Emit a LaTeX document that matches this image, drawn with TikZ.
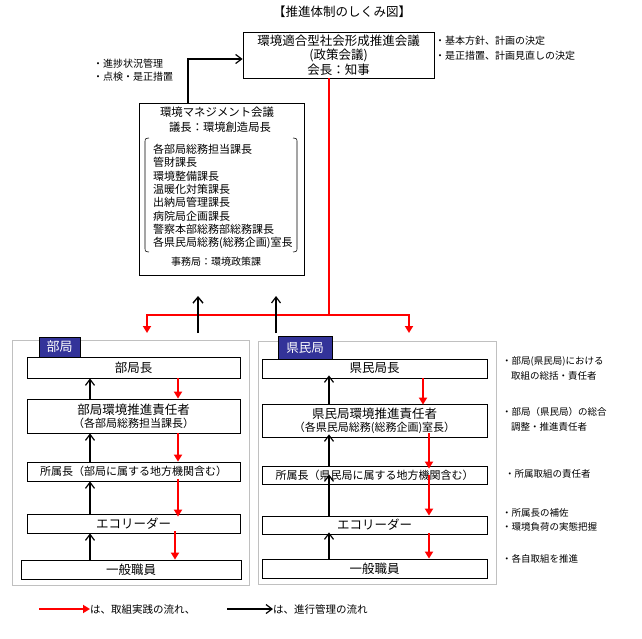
\documentclass[tikz,border=0pt]{standalone}
\usepackage{fontspec}
\setmainfont{Noto Sans CJK JP}
\usetikzlibrary{arrows.meta}
\definecolor{tabblue}{RGB}{51,51,153}
\definecolor{grpgray}{RGB}{192,192,192}
\newcommand\fsz[2]{\fontsize{#1}{#2}\selectfont}
\begin{document}
\begin{tikzpicture}[x=1pt,y=-1pt,
  box/.style={draw, line width=0.8pt, inner sep=0pt, align=center, font=\fsz{12.5}{14}},
  grp/.style={draw=grpgray, line width=1pt, inner sep=0pt},
  tabnode/.style={draw=black, line width=0.6pt, fill=tabblue, text=white, inner sep=0pt, font=\fsz{13}{14}},
  txt/.style={inner sep=0pt, anchor=west},
  note/.style={inner sep=0pt, anchor=west, font=\fsz{9.5}{11}},
  blk/.style={line width=1.7pt, -{Straight Barb[length=6pt,width=9pt,line width=1.2pt]}},
  blkthick/.style={line width=2.7pt, -{Straight Barb[length=6pt,width=10pt,line width=1.4pt]}},
  rd/.style={draw=red, line width=2pt, -{Triangle[length=7pt,width=8pt]}},
  rdline/.style={draw=red, line width=2.7pt, line join=miter}]
\useasboundingbox (0,0) rectangle (642,639);

% title
\node[inner sep=0pt, font=\fsz{12.5}{14}] (title) at (342,12) {【推進体制のしくみ図】};

% top box
\node[box, minimum width=191pt, minimum height=46pt, font=\fsz{12.5}{14.5}] (top) at (338.5,55)
  {環境適合型社会形成推進会議\\(政策会議)\\会長：知事};
\node[note, font=\fsz{10}{11}] (tn1) at (435,41) {・基本方針、計画の決定};
\node[note, font=\fsz{10}{11}] (tn2) at (435,56) {・是正措置、計画見直しの決定};

% management box
\node[draw, line width=0.8pt, minimum width=165pt, minimum height=172pt, inner sep=0pt] (mg) at (221.5,189) {};
\node[inner sep=0pt, font=\fsz{11.4}{13}] (mgt1) at (217,112) {環境マネジメント会議};
\node[inner sep=0pt, font=\fsz{11.3}{13}] (mgt2) at (220,127) {議長：環境創造局長};
\foreach \t [count=\i] in {各部局総務担当課長,管財課長,環境整備課長,温暖化対策課長,出納局管理課長,病院局企画課長,警察本部総務部総務課長,各県民局総務(総務企画)室長}
  \node[txt, font=\fsz{11}{12}] (m\i) at (153,{149+(\i-1)*13.43}) {\t};
\draw[line width=0.6pt] (149,138) .. controls (145,138.5) .. (145,143) -- (145,247) .. controls (145,251.5) .. (149,252);
\draw[line width=0.6pt] (293,138) .. controls (297,138.5) .. (297,143) -- (297,247) .. controls (297,251.5) .. (293,252);
\node[inner sep=0pt, font=\fsz{10}{11}] (jim) at (216,262) {事務局：環境政策課};

\node[note, font=\fsz{10}{11}] (ln1) at (93,64) {・進捗状況管理};
\node[note, font=\fsz{10}{11}] (ln2) at (93,77) {・点検・是正措置};

% mgmt -> top
\coordinate (mgx) at (188,59);
\draw[blk, line width=1.7pt] (mg.north -| mgx) -- (mgx) -- (top.west |- mgx);

% red distribution
\coordinate (rj) at (329,315);
\coordinate (rl) at (147,315);
\coordinate (rr) at (409,315);
\coordinate (rlt) at (147,333);
\coordinate (rrt) at (409,333);
\draw[rdline] (top.south -| rj) -- (rj);
\draw[rdline] (rj) -- (rl) -- (147,322);
\draw[rdline] (rj) -- (rr) -- (409,322);
\draw[rd] (147,320) -- (rlt);
\draw[rd] (409,320) -- (rrt);

% black up arrows toward management
\coordinate (ba1) at (198,333);
\coordinate (ba1t) at (198,296);
\coordinate (ba2) at (276,333);
\coordinate (ba2t) at (276,296);
\draw[blkthick] (ba1) -- (ba1t);
\draw[blk] (ba2) -- (ba2t);

% group frames
\node[grp, minimum width=237pt, minimum height=245pt] (gL) at (130.5,462.5) {};
\node[grp, minimum width=238pt, minimum height=243pt] (gR) at (377,462.5) {};

% left column
\node[box, minimum width=213pt, minimum height=21pt] (L1) at (133.5,367.5) {部局長};
\node[box, minimum width=213pt, minimum height=34pt, font=\fsz{12.5}{13}] (L2) at (133.5,416)
  {部局環境推進責任者\\{\fsz{11}{13}（各部局総務担当課長）}};
\node[box, minimum width=213pt, minimum height=19pt, font=\fsz{11}{12}] (L3) at (133.5,471.5) {所属長（部局に属する地方機関含む）};
\node[box, minimum width=213pt, minimum height=19pt] (L4) at (133.5,523.5) {エコリーダー};
\node[box, minimum width=220pt, minimum height=19pt] (L5) at (131,569.5) {一般職員};
\node[tabnode, minimum width=41pt, minimum height=20pt] (tL) at (59.5,347) {部局};

% right column
\node[box, minimum width=225pt, minimum height=19pt] (R1) at (374.5,368.5) {県民局長};
\node[box, minimum width=225pt, minimum height=33pt, font=\fsz{12.5}{13}] (R2) at (374.5,420.5)
  {県民局環境推進責任者\\{\fsz{11}{13}（各県民局総務(総務企画)室長）}};
\node[box, minimum width=225pt, minimum height=18pt, font=\fsz{11}{12}] (R3) at (374.5,475) {所属長（県民局に属する地方機関含む）};
\node[box, minimum width=225pt, minimum height=18pt] (R4) at (374.5,525) {エコリーダー};
\node[box, minimum width=225pt, minimum height=19pt] (R5) at (374.5,568.5) {一般職員};
\node[tabnode, minimum width=54pt, minimum height=23pt, font=\fsz{12.5}{14}] (tR) at (305,347.5) {県民局};

% left arrows
\coordinate (xLb) at (90,0);
\coordinate (xLr) at (178,0);
\coordinate (xLr2) at (175,0);
\draw[blk] (L2.north -| xLb) -- (L1.south -| xLb);
\draw[blk] (L3.north -| xLb) -- (L2.south -| xLb);
\draw[blk] (L4.north -| xLb) -- (L3.south -| xLb);
\draw[blk] (L5.north -| xLb) -- (L4.south -| xLb);
\draw[rd] (L1.south -| xLr) -- (L2.north -| xLr);
\draw[rd] (L2.south -| xLr) -- (L3.north -| xLr);
\draw[rd] ([yshift=2pt]L3.south -| xLr) -- ([yshift=-3pt]L4.north -| xLr);
\draw[rd] ([yshift=2pt]L4.south -| xLr2) -- (L5.north -| xLr2);

% right arrows
\coordinate (xRb) at (329,0);
\coordinate (xRr1) at (423,0);
\coordinate (xRr) at (429,0);
\draw[blk] (R2.north -| xRb) -- ([yshift=3pt]R1.south -| xRb);
\draw[blk] (R3.north -| xRb) -- ([yshift=3pt]R2.south -| xRb);
\draw[blk] (R4.north -| xRb) -- ([yshift=10pt]R3.south -| xRb);
\draw[blk] (R5.north -| xRb) -- ([yshift=2pt]R4.south -| xRb);
\draw[rd] (R1.south -| xRr1) -- ([yshift=-1pt]R2.north -| xRr1);
\draw[rd] ([yshift=4pt]R2.south -| xRr) -- ([yshift=-3pt]R3.north -| xRr);
\draw[rd] ([yshift=9pt]R3.south -| xRr) -- (R4.north -| xRr);
\draw[rd] ([yshift=1pt]R4.south -| xRr) -- (R5.north -| xRr);

% right notes
\node[note] (n1) at (502,361) {・部局(県民局)における};
\node[note] (n1b) at (511,376) {取組の総括・責任者};
\node[note] (n2) at (502,412) {・部局（県民局）の総合};
\node[note] (n2b) at (511,427) {調整・推進責任者};
\node[note] (n3) at (505,474) {・所属取組の責任者};
\node[note] (n4) at (502,513) {・所属長の補佐};
\node[note] (n4b) at (502,527) {・環境負荷の実態把握};
\node[note] (n5) at (502,559) {・各自取組を推進};

% legend
\coordinate (lgr1) at (39,609);
\coordinate (lgr2) at (90,609);
\coordinate (lgb1) at (227,609);
\coordinate (lgb2) at (273,609);
\draw[rd] (lgr1) -- (lgr2);
\node[txt, font=\fsz{10.5}{12}] (lgt1) at (lgr2) {は、取組実践の流れ、};
\draw[blk] (lgb1) -- (lgb2);
\node[txt, font=\fsz{10.5}{12}] (lgt2) at (lgb2) {は、進行管理の流れ};
\end{tikzpicture}
\end{document}
